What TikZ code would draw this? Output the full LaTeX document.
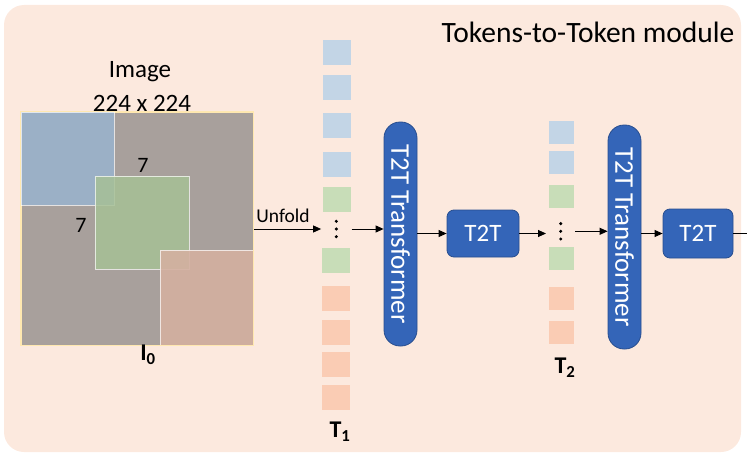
\documentclass[tikz,border=0pt]{standalone}
\usepackage{fontspec}
\setmainfont{Carlito}
\usetikzlibrary{arrows.meta}
\definecolor{bgc}{RGB}{252,233,222}
\definecolor{imggray}{RGB}{168,160,156}
\definecolor{sqblue}{RGB}{155,176,198}
\definecolor{sqgreen}{RGB}{166,192,150}
\definecolor{sqsalmon}{RGB}{212,176,160}
\definecolor{tkblue}{RGB}{195,213,230}
\definecolor{tkgreen}{RGB}{200,221,184}
\definecolor{tksalmon}{RGB}{250,204,180}
\definecolor{tblue}{RGB}{52,101,184}
\definecolor{tborder}{RGB}{40,78,143}
\definecolor{imgborder}{RGB}{255,232,176}
\tikzset{
  fs/.style={font=\fontsize{#1}{#1}\selectfont},
  arr/.style={-{Triangle[length=8pt,width=7pt]}, line width=0.9pt},
  tok/.style={draw=none, inner sep=0pt, minimum width=28pt, minimum height=25pt},
  tokb/.style={tok, fill=tkblue},
  tokg/.style={tok, fill=tkgreen},
  toks/.style={tok, fill=tksalmon},
  tok2/.style={minimum width=25pt, minimum height=23pt},
  trans/.style={rotate=-90, draw=tborder, fill=tblue, text=white, line width=0.8pt,
    minimum width=224pt, minimum height=33pt, inner sep=0pt, rounded corners=16pt, fs=27},
  tbox/.style={draw=tborder, fill=tblue, text=white, line width=0.8pt,
    minimum width=72pt, minimum height=47pt, inner sep=0pt, rounded corners=7pt, fs=25},
  dotsbox/.style={minimum width=30pt, minimum height=20pt, inner sep=0pt},
  patch/.style={draw=white, draw opacity=0.7, line width=0.8pt, inner sep=0pt},
  bold/.style={font=\fontsize{#1}{#1}\selectfont\bfseries}
}
\begin{document}
\begin{tikzpicture}[x=1pt,y=-1pt]
\useasboundingbox (0,0) rectangle (747,460);
\fill[bgc, rounded corners=20pt] (4,5) rectangle (741,452);
\node[fs=29.5] (title) at (588,32) {Tokens-to-Token module};
% image
\node[fs=25] (imglab) at (140,72) {Image};
\node[fs=25] (imgsize) at (142,103) {224 x 224};
\node[draw=imgborder, fill=imggray, line width=1pt,
  minimum width=232pt, minimum height=233pt, inner sep=0pt] (img) at (137,228.5) {};
\node[patch, fill=sqblue, minimum width=93pt, minimum height=93pt] (pb) at (67.5,158.5) {};
\node[patch, fill=sqgreen, fill opacity=0.85, minimum width=94pt, minimum height=93pt] (pg) at (142,222.5) {};
\node[patch, fill=sqsalmon, fill opacity=0.9, minimum width=93pt, minimum height=95pt] (ps) at (206.5,297.5) {};
\draw[imgborder, line width=1pt] (img.north west) rectangle (img.south east);
\node[fs=22] (s1) at (143,165) {7};
\node[fs=22] (s2) at (81,225) {7};
\node[bold=24] (i0) at (148,355) {I\textsubscript{0}};
% T1 tokens
\node[tokb] (a1) at (337,52.5) {};
\node[tokb] (a2) at (337,87.5) {};
\node[tokb] (a3) at (337,125.5) {};
\node[tokb] (a4) at (337,164.5) {};
\node[tokg] (a5) at (337,199.5) {};
\node[dotsbox] (d1) at (336.3,229) {};
\node[tokg] (a6) at (336,260.5) {};
\node[toks] (a7) at (336,298.5) {};
\node[toks] (a8) at (336,332.5) {};
\node[toks] (a9) at (336,364.5) {};
\node[toks] (a10) at (336,397.5) {};
\node[bold=24] (t1) at (340,432) {T\textsubscript{1}};
\node[fs=19.5] (unf) at (283,216) {Unfold};
% transformer 1
\node[trans] (tr1) at (400.5,234) {T2T Transformer};
\node[tbox] (b1) at (483,233.5) {T2T};
% T2 tokens
\node[tokb, tok2] (c1) at (561.5,132.5) {};
\node[tokb, tok2] (c2) at (561.5,162.5) {};
\node[tokg, tok2] (c3) at (561.5,196.5) {};
\node[dotsbox, minimum width=29pt] (d2) at (560.7,231.3) {};
\node[tokg, tok2] (c4) at (561,258.5) {};
\node[toks, tok2] (c5) at (561,298.5) {};
\node[toks, tok2] (c6) at (561,332.5) {};
\node[bold=24] (t2) at (565,368) {T\textsubscript{2}};
% transformer 2
\node[trans] (tr2) at (624.5,237) {T2T Transformer};
\node[tbox, minimum width=70pt, minimum height=49pt] (b2) at (698,233.5) {T2T};
\coordinate (out) at (747,233.5);
% dots
\foreach \d in {d1,d2}{
  \fill ([yshift=7.7pt]\d.center) circle (1.7pt);
  \fill (\d.center) circle (1.7pt);
  \fill ([yshift=-7.7pt]\d.center) circle (1.7pt);
}
% arrows
\draw[arr] (img.east |- d1) -- (d1.west);
\draw[arr] (d1.east) -- (d1.east -| tr1.south);
\draw[arr] (b1.west -| tr1.north) -- (b1.west);
\draw[arr] (b1.east) -- (b1.east -| d2.west);
\draw[arr] (d2.east) -- (d2.east -| tr2.south);
\draw[arr] (b2.west -| tr2.north) -- (b2.west);
\draw[line width=0.9pt] (b2.east) -- (out);
\end{tikzpicture}
\end{document}
